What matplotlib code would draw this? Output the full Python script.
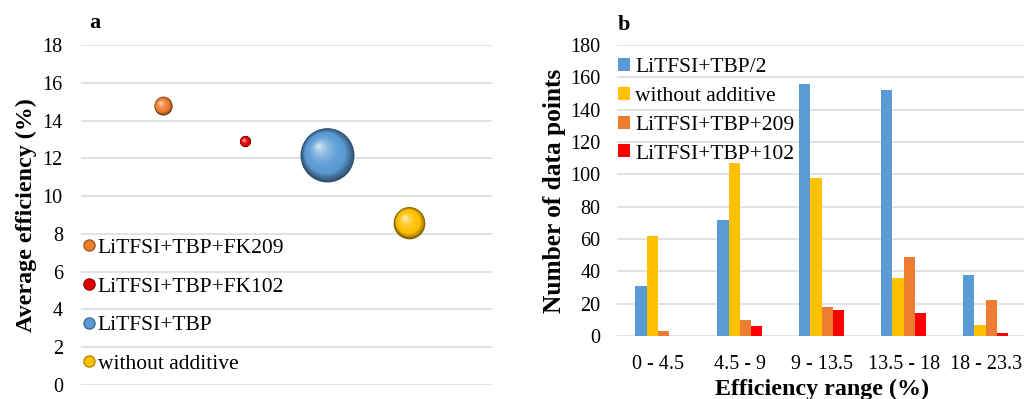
import numpy as np
import matplotlib.pyplot as plt
from matplotlib.colors import to_rgb
from matplotlib.lines import Line2D
from matplotlib.transforms import ScaledTranslation

plt.rcParams['font.family'] = ['Liberation Serif', 'DejaVu Serif']

# panel a: average efficiency per additive, bubble size = number of data points
bubble_names = ['LiTFSI+TBP+FK209', 'LiTFSI+TBP+FK102', 'LiTFSI+TBP', 'without additive']
bubble_x = [1, 2, 3, 4]
bubble_eff = [14.8, 12.9, 12.2, 8.6]
bubble_n = [102, 38, 898, 310]
bubble_colors = ['#ed7d31', '#e00000', '#5b9bd5', '#ffc000']

# panel b: histogram of efficiencies
ranges = ['0 - 4.5', '4.5 - 9', '9 - 13.5', '13.5 - 18', '18 - 23.3']
series_names = ['LiTFSI+TBP/2', 'without additive', 'LiTFSI+TBP+209', 'LiTFSI+TBP+102']
litfsi_tbp_half = [31, 72, 156, 152, 38]
no_additive = [62, 107, 98, 36, 7]
fk209 = [3, 10, 18, 49, 22]
fk102 = [0, 6, 16, 14, 2]
bar_colors = ['#5b9bd5', '#ffc000', '#ed7d31', '#ff0000']

grid_col = '#d9dde3'

fig = plt.figure(figsize=(10.24, 3.99), dpi=100)
ax1 = fig.add_axes([0.079, 0.035, 0.401, 0.852])
ax2 = fig.add_axes([0.6025, 0.158, 0.40, 0.729])


def mix(c1, c2, t):
    a = np.array(to_rgb(c1))
    b = np.array(to_rgb(c2))
    return tuple(a * (1 - t) + b * t)


def sphere(ax, x, y, s, color, layers=40):
    # fake 3d ball: stacked circles shrinking towards a highlight up-left
    r = np.sqrt(s) / 2.0
    dark = mix(color, 'black', 0.5)
    for i in range(layers):
        f = i / layers
        size = s * (1 - f) ** 2
        dx = -0.35 * r * f
        dy = 0.35 * r * f
        if f < 0.25:
            c = mix(dark, color, f / 0.25)
        else:
            c = mix(color, 'white', ((f - 0.25) / 0.75) ** 2.0 * 0.8)
        tr = ax.transData + ScaledTranslation(dx / 72, dy / 72, fig.dpi_scale_trans)
        ax.scatter([x], [y], s=size, color=c, transform=tr, zorder=3 + i * 0.01,
                   linewidths=0)


k = 1.68
for x, y, n, c in zip(bubble_x, bubble_eff, bubble_n, bubble_colors):
    sphere(ax1, x, y, n * k, c)

ax1.set_xlim(0, 5)
ax1.set_ylim(0, 18)
ax1.set_yticks(np.arange(0, 19, 2))
ax1.set_xticks([])
ax1.grid(axis='y', color=grid_col, linewidth=1.2)
ax1.set_axisbelow(True)
for sp in ax1.spines.values():
    sp.set_visible(False)
ax1.tick_params(axis='y', length=0, pad=13, labelsize=14.5)
ax1.set_ylabel('Average efficiency (%)', fontsize=17.3, fontweight='bold', labelpad=4)
ax1.text(0.02, 1.035, 'a', transform=ax1.transAxes, fontsize=16, fontweight='bold',
         ha='left', va='bottom')

handles1 = [Line2D([], [], marker='o', linestyle='', markersize=8,
                   markerfacecolor=c, markeredgecolor=mix(c, 'black', 0.3))
            for c in bubble_colors]
ax1.legend(handles1, bubble_names, loc='lower left', bbox_to_anchor=(-0.022, 0.008),
           frameon=False, fontsize=15.5, handletextpad=0.0, labelspacing=0.86,
           handlelength=0.8, borderaxespad=0)

# grouped bars
x = np.arange(len(ranges))
w = 0.1375
for i, (vals, name, c) in enumerate(zip([litfsi_tbp_half, no_additive, fk209, fk102],
                                        series_names, bar_colors)):
    ax2.bar(x + (i - 1.5) * w, vals, width=w, color=c, label=name, zorder=3)

ax2.set_xlim(-0.5, 4.5)
ax2.set_ylim(0, 180)
ax2.set_yticks(np.arange(0, 181, 20))
ax2.set_xticks(x)
ax2.set_xticklabels(ranges)
ax2.grid(axis='y', color=grid_col, linewidth=1.2)
ax2.set_axisbelow(True)
for sp in ax2.spines.values():
    sp.set_visible(False)
ax2.tick_params(axis='y', length=0, pad=12, labelsize=14.5)
ax2.tick_params(axis='x', length=0, pad=14, labelsize=14.5)
ax2.set_ylabel('Number of data points', fontsize=18.3, fontweight='bold', labelpad=3)
ax2.set_xlabel('Efficiency range (%)', fontsize=17.3, fontweight='bold', labelpad=3)
ax2.text(0.002, 1.035, 'b', transform=ax2.transAxes, fontsize=16, fontweight='bold',
         ha='left', va='bottom')
ax2.legend(loc='upper left', bbox_to_anchor=(-0.018, 0.985), frameon=False,
           fontsize=15.5, handlelength=0.55, handleheight=0.55, handletextpad=0.25,
           labelspacing=0.45, borderaxespad=0)

fig.savefig('out.png', dpi=100)
